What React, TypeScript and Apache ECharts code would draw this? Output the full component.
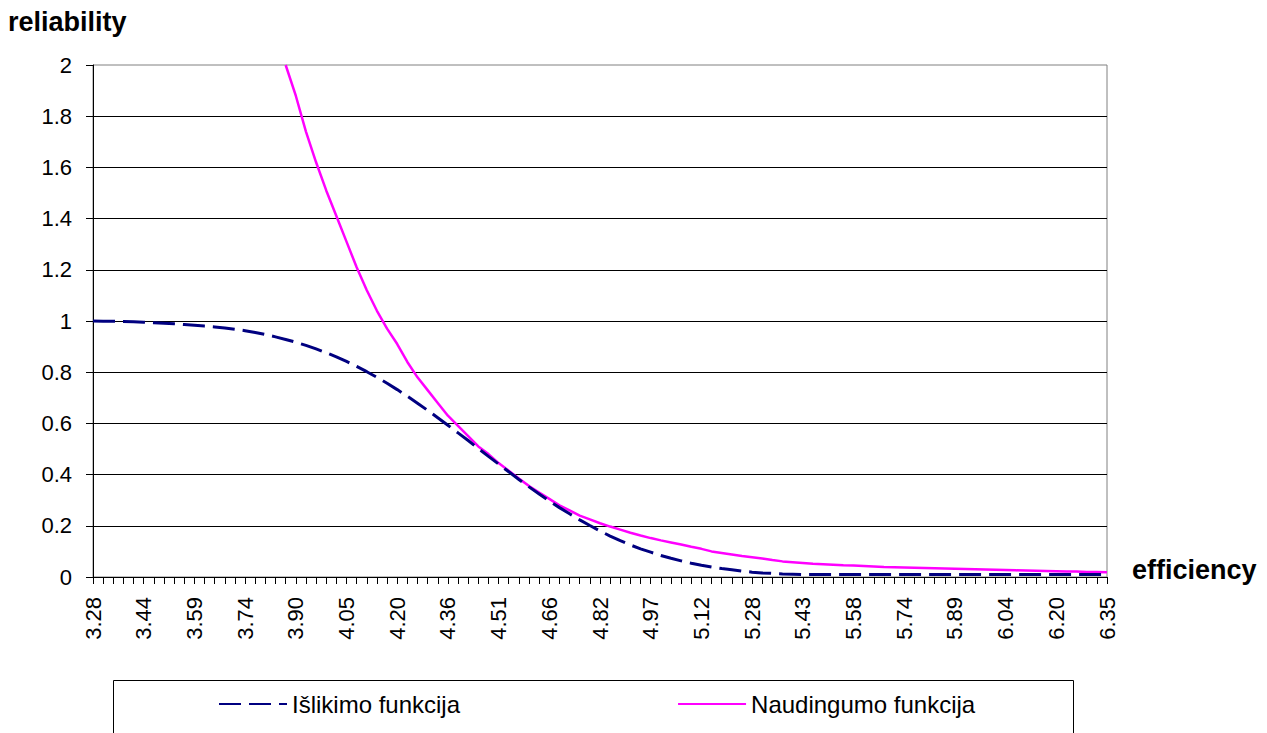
import React, { useEffect, useRef } from "react";
import * as echarts from "echarts";

// Category values (efficiency), 101 points; labels shown every 5th
const categories: string[] = [
  "3.28","3.31","3.34","3.37","3.40","3.44","3.47","3.50","3.53","3.56",
  "3.59","3.62","3.65","3.68","3.71","3.74","3.77","3.80","3.83","3.86",
  "3.90","3.93","3.96","3.99","4.02","4.05","4.08","4.11","4.14","4.17",
  "4.20","4.23","4.26","4.29","4.33","4.36","4.39","4.42","4.45","4.48",
  "4.51","4.54","4.57","4.60","4.63","4.66","4.69","4.72","4.76","4.79",
  "4.82","4.85","4.88","4.91","4.94","4.97","5.00","5.03","5.06","5.09",
  "5.12","5.15","5.18","5.22","5.25","5.28","5.31","5.34","5.37","5.40",
  "5.43","5.46","5.49","5.52","5.55","5.58","5.61","5.65","5.68","5.71",
  "5.74","5.77","5.80","5.83","5.86","5.89","5.92","5.95","5.98","6.01",
  "6.04","6.08","6.11","6.14","6.17","6.20","6.23","6.26","6.29","6.32",
  "6.35",
];

// Išlikimo funkcija (navy dashed)
const islikimo: number[] = [
  1.0, 0.999, 0.999, 0.998, 0.997, 0.995, 0.993, 0.991, 0.989, 0.986,
  0.983, 0.98, 0.977, 0.973, 0.968, 0.962, 0.955, 0.947, 0.938, 0.928,
  0.917, 0.905, 0.891, 0.876, 0.86, 0.842, 0.823, 0.802, 0.78, 0.757,
  0.732, 0.706, 0.679, 0.651, 0.622, 0.593, 0.563, 0.533, 0.502, 0.471,
  0.441, 0.411, 0.381, 0.352, 0.324, 0.297, 0.271, 0.247, 0.223, 0.201,
  0.18, 0.16, 0.142, 0.125, 0.11, 0.097, 0.084, 0.073, 0.063, 0.054,
  0.046, 0.039, 0.033, 0.028, 0.023, 0.019, 0.016, 0.014, 0.012, 0.011,
  0.01, 0.01, 0.01, 0.01, 0.01, 0.01, 0.01, 0.01, 0.01, 0.01,
  0.01, 0.01, 0.01, 0.01, 0.01, 0.01, 0.01, 0.01, 0.01, 0.01,
  0.01, 0.01, 0.01, 0.01, 0.01, 0.01, 0.01, 0.01, 0.01, 0.01,
  0.01,
];

// Naudingumo funkcija (magenta solid); above the axis max before index 19
const naudingumo: (number | null)[] = [
  null, null, null, null, null, null, null, null, null, null,
  null, null, null, null, null, null, null, null, null, 2.0,
  1.88, 1.74, 1.62, 1.51, 1.41, 1.31, 1.21, 1.12, 1.04, 0.97,
  0.91, 0.84, 0.78, 0.73, 0.68, 0.63, 0.59, 0.55, 0.51, 0.48,
  0.445, 0.415, 0.385, 0.355, 0.33, 0.305, 0.28, 0.26, 0.24, 0.225,
  0.21, 0.197, 0.185, 0.173, 0.162, 0.152, 0.143, 0.135, 0.127, 0.118,
  0.11, 0.1, 0.094, 0.088, 0.082, 0.077, 0.072, 0.066, 0.061, 0.058,
  0.055, 0.052, 0.05, 0.048, 0.046, 0.045, 0.043, 0.041, 0.039, 0.038,
  0.037, 0.036, 0.035, 0.034, 0.033, 0.032, 0.031, 0.03, 0.029, 0.028,
  0.027, 0.026, 0.025, 0.024, 0.023, 0.022, 0.021, 0.021, 0.02, 0.02,
  0.019,
];

const seriesNames = ["Išlikimo funkcija", "Naudingumo funkcija"];
const FONT = "'Liberation Sans', Arial, sans-serif";

export default function App() {
  const ref = useRef<HTMLDivElement>(null);
  useEffect(() => {
    if (!ref.current) return;
    const chart = echarts.init(ref.current, undefined, { renderer: "svg" });
    chart.setOption({
      animation: false,
      backgroundColor: "#ffffff",
      textStyle: { fontFamily: FONT },
      grid: {
        left: 93,
        right: 160,
        top: 65,
        bottom: 156,
        show: true,
        borderColor: "#808080",
        borderWidth: 1,
        backgroundColor: "transparent",
      },
      xAxis: {
        type: "category",
        data: categories,
        boundaryGap: false,
        axisLine: { lineStyle: { color: "#000", width: 1 } },
        axisTick: { show: true, interval: 0, length: 7, lineStyle: { color: "#000" } },
        axisLabel: {
          interval: 4,
          rotate: 90,
          margin: 20,
          color: "#000",
          fontSize: 22,
          fontFamily: FONT,
        },
        splitLine: { show: false },
      },
      yAxis: {
        type: "value",
        min: 0,
        max: 2,
        interval: 0.2,
        axisLine: { show: true, lineStyle: { color: "#000", width: 1 } },
        axisTick: { show: true, length: 7, lineStyle: { color: "#000" } },
        axisLabel: { margin: 21, color: "#000", fontSize: 22, fontFamily: FONT },
        splitLine: {
          show: true,
          showMaxLine: false,
          showMinLine: false,
          lineStyle: { color: "#000", width: 1 },
        },
      },
      legend: {
        left: 218,
        top: 692,
        padding: 0,
        itemWidth: 68,
        itemHeight: 14,
        itemGap: 217,
        itemStyle: { opacity: 0 },
        textStyle: { fontSize: 24, color: "#000", fontFamily: FONT },
        data: [seriesNames[0], seriesNames[1]],
      },
      graphic: [
        {
          type: "rect",
          shape: { x: 113.5, y: 680.5, width: 960, height: 70 },
          style: { fill: "none", stroke: "#000", lineWidth: 1 },
          silent: true,
        },
        {
          type: "text",
          left: 8,
          top: 8,
          style: { text: "reliability", font: `bold 27px ${FONT}`, fill: "#000" },
        },
        {
          type: "text",
          left: 1132,
          top: 556,
          style: { text: "efficiency", font: `bold 27px ${FONT}`, fill: "#000" },
        },
      ],
      series: [
        {
          name: seriesNames[0],
          type: "line",
          data: islikimo,
          symbol: "none",
          showSymbol: false,
          clip: true,
          lineStyle: { color: "#000080", width: 3, type: [22, 8] },
          itemStyle: { color: "#000080" },
          z: 3,
        },
        {
          name: seriesNames[1],
          type: "line",
          data: naudingumo,
          symbol: "none",
          showSymbol: false,
          clip: true,
          lineStyle: { color: "#ff00ff", width: 2.5 },
          itemStyle: { color: "#ff00ff" },
          z: 2,
        },
      ],
    });
    return () => chart.dispose();
  }, []);
  return (
    <div
      ref={ref}
      style={{ position: "fixed", left: 0, top: 0, width: 1267, height: 733 }}
    />
  );
}
